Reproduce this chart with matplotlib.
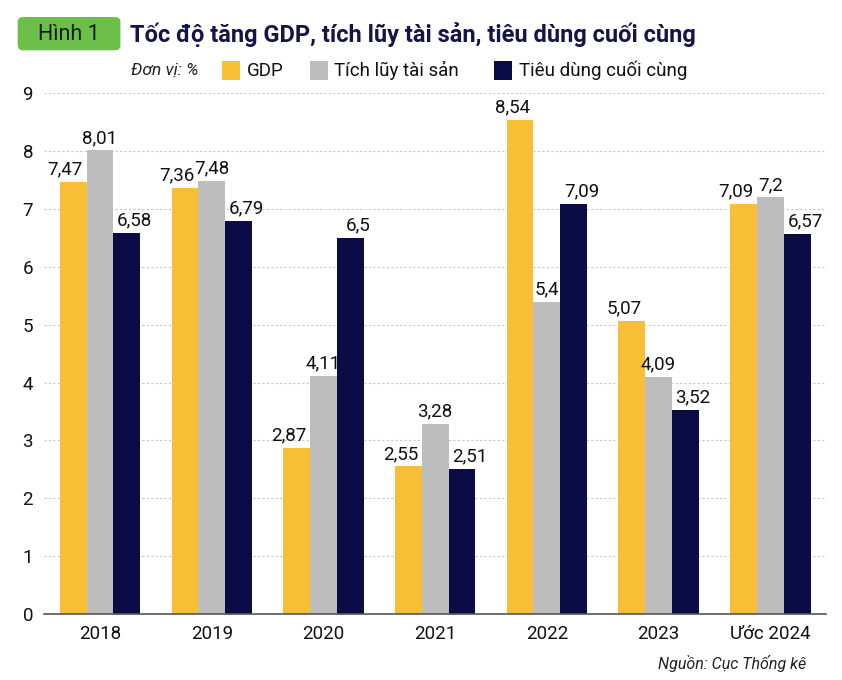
import matplotlib
matplotlib.use("Agg")
import matplotlib.pyplot as plt
import numpy as np
from matplotlib.patches import FancyBboxPatch, Rectangle

plt.rcParams['font.family'] = ['Roboto', 'DejaVu Sans']

years = ['2018', '2019', '2020', '2021', '2022', '2023', 'Ước 2024']
gdp = [7.47, 7.36, 2.87, 2.55, 8.54, 5.07, 7.09]
tich_luy = [8.01, 7.48, 4.11, 3.28, 5.4, 4.09, 7.2]
tieu_dung = [6.58, 6.79, 6.5, 2.51, 7.09, 3.52, 6.57]

series = [('GDP', gdp, '#F7BE36'),
          ('Tích lũy tài sản', tich_luy, '#BDBDBD'),
          ('Tiêu dùng cuối cùng', tieu_dung, '#0B0B45')]
# nudges for the value labels so neighbours don't collide
label_shift = [-0.07, 0.0, 0.07]

def fmt(v):
    s = ('%.2f' % v).rstrip('0').rstrip('.')
    return s.replace('.', ',')

fig = plt.figure(figsize=(8.42, 6.8), dpi=100)
ax = fig.add_axes([0.0525, 0.097, 0.9287, 0.766])

x = np.arange(len(years))
w = 0.24
for i, (name, vals, col) in enumerate(series):
    pos = x + (i - 1) * w
    bars = ax.bar(pos, vals, w, color=col, zorder=3)
    for b, v in zip(bars, vals):
        ax.text(b.get_x() + b.get_width() / 2 + label_shift[i], v + 0.06, fmt(v),
                ha='center', va='bottom', fontsize=13.5, color='#111111', zorder=6)

ax.set_xlim(-0.5, 6.5)
ax.set_ylim(0, 9)
ax.set_yticks(range(10))
ax.set_xticks(x)
ax.set_xticklabels(years)
ax.tick_params(axis='both', length=0, labelsize=13.5, colors='#111111')
ax.tick_params(axis='y', pad=8)
ax.tick_params(axis='x', pad=8)
ax.yaxis.grid(True, linestyle=(0, (2, 2)), color='#C8C8C8', linewidth=0.8, zorder=0)
for s in ['top', 'right', 'left']:
    ax.spines[s].set_visible(False)
ax.spines['bottom'].set_color('#555555')
ax.spines['bottom'].set_linewidth(1.2)
ax.spines['bottom'].set_zorder(4)

# header badge and title
badge = FancyBboxPatch((0.021, 0.926), 0.122, 0.049, boxstyle='round,pad=0,rounding_size=0.007',
                       transform=fig.transFigure, facecolor='#6CC04A', edgecolor='none')
fig.patches.append(badge)
fig.text(0.082, 0.949, 'Hình 1', ha='center', va='center', fontsize=15.5, color='#1a1a1a')
fig.text(0.154, 0.949, 'Tốc độ tăng GDP, tích lũy tài sản, tiêu dùng cuối cùng',
         ha='left', va='center', fontsize=17, fontweight='bold', color='#14144A')

# legend row
ly = 0.896
fig.text(0.155, ly, 'Đơn vị: %', ha='left', va='center', fontsize=12.5, style='italic', color='#222222')
lx = [0.264, 0.368, 0.587]
for (name, vals, col), px in zip(series, lx):
    fig.patches.append(Rectangle((px, ly - 0.014), 0.021, 0.028, transform=fig.transFigure,
                                 facecolor=col, edgecolor='none'))
    fig.text(px + 0.029, ly, name, ha='left', va='center', fontsize=13.5, color='#111111')

fig.text(0.958, 0.024, 'Nguồn: Cục Thống kê', ha='right', va='center',
         fontsize=11.5, style='italic', color='#222222')

fig.savefig('out.png', dpi=100, facecolor='white')
